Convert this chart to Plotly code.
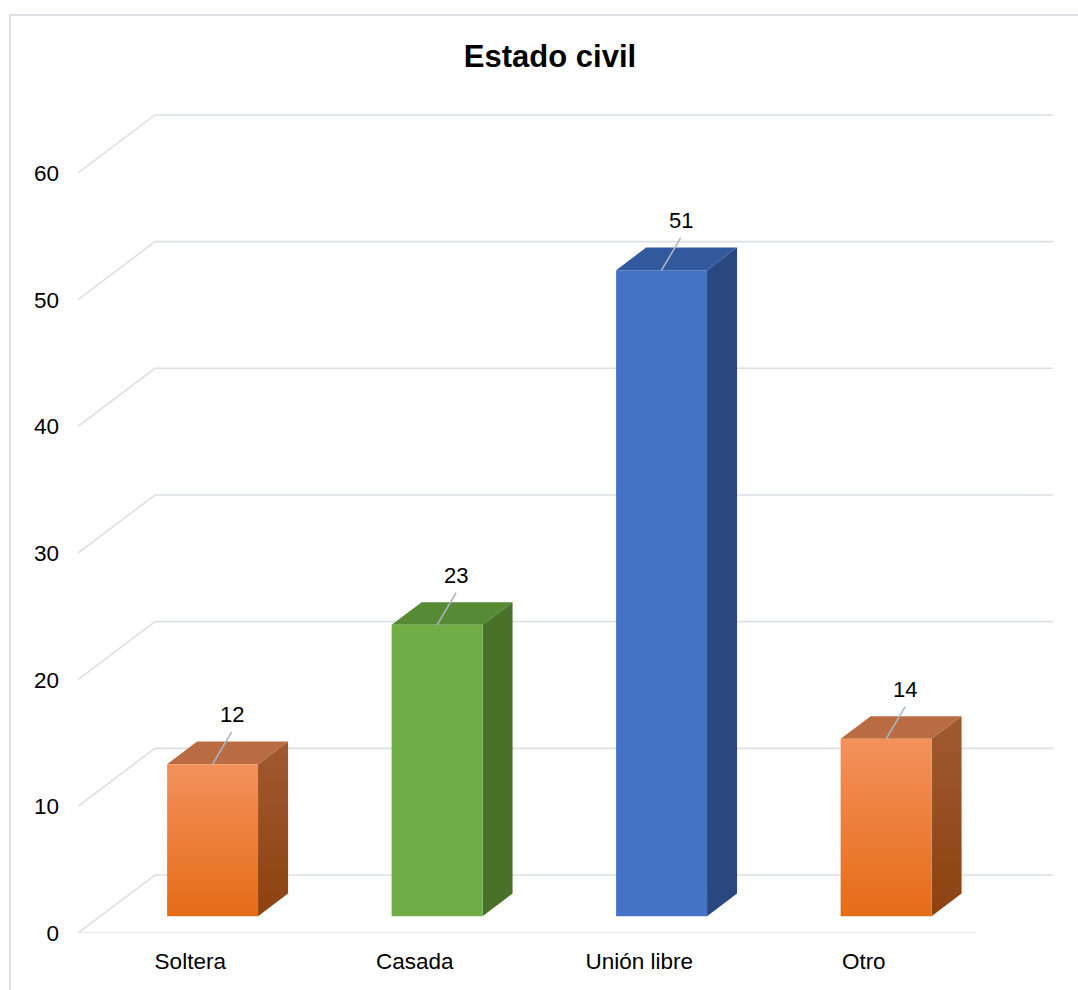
import plotly.graph_objects as go

# Data
categories = ["Soltera", "Casada", "Unión libre", "Otro"]
values = [12, 23, 51, 14]
y_ticks = [0, 10, 20, 30, 40, 50, 60]

# Face colours per bar: front (bottom, top), top face, side (bottom, top)
front_colors = [("#E56C17", "#F3915B"), ("#70AD47", "#70AD47"),
                ("#4472C4", "#4472C4"), ("#E56C17", "#F3915B")]
top_colors = ["#B96B41", "#568A35", "#32589D", "#B96B41"]
side_colors = [("#8C4211", "#A05A30"), ("#4A7129", "#4A7129"),
               ("#2A4880", "#2A4880"), ("#8C4211", "#A05A30")]

# Layout geometry (pixels)
W, H = 1078, 990
ML, MR, MT, MB = 78, 20, 100, 57
PX_PER_CAT = 224.5
PX_PER_UNIT = 12.667
plot_w = W - ML - MR
plot_h = H - MT - MB
x_max = plot_w / PX_PER_CAT
y_max = plot_h / PX_PER_UNIT

# Oblique projection of the depth axis onto (x, y) data units
KX = 77 / PX_PER_CAT
KY = 58 / PX_PER_UNIT
D0, D1 = 0.29, 0.68          # bar front / back depth
BAR_W = 0.405                # bar width in category units

grid_color = "#DCDFE5"

fig = go.Figure()

# Walls and floor grid: diagonal on the side wall, horizontal on the back wall
gx, gy = [], []
for v in y_ticks:
    gx += [0, KX, len(categories) + KX, None]
    gy += [v, v + KY, v + KY, None]
gx += [0, len(categories), None]
gy += [0, 0, None]
fig.add_trace(go.Scatter(x=gx, y=gy, mode="lines",
                         line=dict(color=grid_color, width=1.6),
                         hoverinfo="skip", showlegend=False))


def face(xs, ys, color, grad=None):
    kw = dict(x=xs + [xs[0]], y=ys + [ys[0]], mode="lines", fill="toself",
              line=dict(width=0), hoverinfo="skip", showlegend=False)
    if grad and grad[0] != grad[1]:
        kw["fillgradient"] = dict(type="vertical",
                                  colorscale=[[0, grad[0]], [1, grad[1]]])
        kw["fillcolor"] = grad[1]
    else:
        kw["fillcolor"] = color
    fig.add_trace(go.Scatter(**kw))


ddx = (D1 - D0) * KX
ddy = (D1 - D0) * KY
for i, (cat, val) in enumerate(zip(categories, values)):
    xc = i + 0.5 + D0 * KX
    xl, xr = xc - BAR_W / 2, xc + BAR_W / 2
    v0 = D0 * KY
    v1 = val + D0 * KY
    # side face
    face([xr, xr + ddx, xr + ddx, xr], [v0, v0 + ddy, v1 + ddy, v1],
         side_colors[i][0], side_colors[i])
    # top face
    face([xl, xr, xr + ddx, xl + ddx], [v1, v1, v1 + ddy, v1 + ddy],
         top_colors[i])
    # front face
    face([xl, xr, xr, xl], [v0, v0, v1, v1],
         front_colors[i][0], front_colors[i])

    # leader line and value label
    lx, ly = xc + 0.085, v1 + 2.55
    fig.add_trace(go.Scatter(x=[xc, lx], y=[v1, ly], mode="lines",
                             line=dict(color="#A9B6C8", width=1.6),
                             hoverinfo="skip", showlegend=False))
    fig.add_annotation(x=lx, y=ly + 1.35, text=str(val), showarrow=False,
                       xanchor="center", yanchor="middle",
                       font=dict(size=22, color="#000000"))

# Chart outer border
fig.add_shape(type="rect", xref="paper", yref="paper",
              x0=(10 - ML) / plot_w, x1=(W + 20 - ML) / plot_w,
              y0=(H - MB - (H + 20)) / plot_h, y1=(H - MB - 15) / plot_h,
              line=dict(color="#DDE0E6", width=2), fillcolor="rgba(0,0,0,0)",
              layer="below")

fig.update_layout(
    width=W, height=H,
    margin=dict(l=ML, r=MR, t=MT, b=MB),
    paper_bgcolor="white", plot_bgcolor="white",
    font=dict(family="Liberation Sans, Arial, sans-serif", color="#000000"),
    title=dict(text="<b>Estado civil</b>", x=550 / W, xref="container",
               xanchor="center", y=1 - 56 / H, yref="container",
               yanchor="middle", font=dict(size=31, color="#000000")),
    xaxis=dict(range=[0, x_max], showgrid=False, zeroline=False,
               showline=False, tickmode="array",
               tickvals=[i + 0.5 for i in range(len(categories))],
               ticktext=categories, ticks="", ticklabelstandoff=12,
               tickfont=dict(size=22.5), fixedrange=True),
    yaxis=dict(range=[0, y_max], showgrid=False, zeroline=False,
               showline=False, tickmode="array", tickvals=y_ticks,
               ticks="", ticklabelstandoff=18,
               tickfont=dict(size=22.5), fixedrange=True),
    showlegend=False,
)

fig.write_html("out.html")
